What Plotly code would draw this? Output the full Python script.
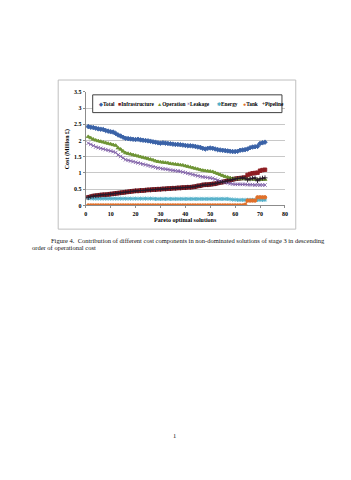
import plotly.graph_objects as go

solutions = list(range(1, 73))

total = [2.43, 2.41, 2.40, 2.38, 2.36, 2.35, 2.34, 2.31, 2.29, 2.27, 2.26, 2.22, 2.17, 2.14, 2.10, 2.07, 2.06, 2.05,
         2.04, 2.03, 2.04, 2.02, 2.01, 2.00, 1.99, 1.98, 1.96, 1.95, 1.93, 1.92, 1.93, 1.92, 1.91, 1.90, 1.89, 1.88,
         1.88, 1.87, 1.86, 1.85, 1.84, 1.84, 1.83, 1.82, 1.80, 1.79, 1.76, 1.74, 1.76, 1.77, 1.76, 1.74, 1.72, 1.71,
         1.70, 1.69, 1.68, 1.67, 1.66, 1.66, 1.67, 1.70, 1.71, 1.72, 1.74, 1.78, 1.80, 1.81, 1.82, 1.91, 1.93, 1.95]

infrastructure = [0.25, 0.27, 0.29, 0.30, 0.31, 0.32, 0.33, 0.33, 0.34, 0.35, 0.36, 0.37, 0.38, 0.39, 0.40, 0.41, 0.42, 0.43,
                  0.44, 0.45, 0.45, 0.46, 0.46, 0.47, 0.48, 0.48, 0.49, 0.49, 0.50, 0.50, 0.51, 0.51, 0.52, 0.52, 0.53, 0.53,
                  0.54, 0.54, 0.55, 0.55, 0.56, 0.56, 0.57, 0.58, 0.60, 0.61, 0.63, 0.64, 0.64, 0.65, 0.66, 0.67, 0.69, 0.71,
                  0.72, 0.74, 0.76, 0.78, 0.80, 0.82, 0.83, 0.84, 0.85, 0.86, 0.94, 0.97, 0.99, 1.00, 1.01, 1.07, 1.09, 1.10]

operation = [2.12, 2.08, 2.04, 2.01, 1.99, 1.97, 1.95, 1.93, 1.91, 1.89, 1.87, 1.85, 1.77, 1.73, 1.67, 1.62, 1.60, 1.58,
             1.56, 1.54, 1.52, 1.50, 1.48, 1.46, 1.44, 1.42, 1.40, 1.37, 1.35, 1.34, 1.33, 1.32, 1.31, 1.29, 1.28, 1.27,
             1.26, 1.25, 1.24, 1.22, 1.20, 1.18, 1.16, 1.14, 1.12, 1.10, 1.08, 1.07, 1.06, 1.05, 1.04, 1.01, 0.98, 0.95,
             0.92, 0.89, 0.87, 0.85, 0.83, 0.82, 0.82, 0.82, 0.82, 0.82, 0.81, 0.81, 0.81, 0.80, 0.80, 0.80, 0.80, 0.80]

leakage = [1.92, 1.88, 1.84, 1.80, 1.78, 1.76, 1.74, 1.72, 1.70, 1.68, 1.66, 1.63, 1.56, 1.51, 1.46, 1.41, 1.39, 1.37,
           1.35, 1.33, 1.31, 1.29, 1.27, 1.25, 1.23, 1.21, 1.19, 1.17, 1.15, 1.14, 1.13, 1.12, 1.11, 1.09, 1.08, 1.07,
           1.06, 1.05, 1.03, 1.01, 0.99, 0.97, 0.95, 0.93, 0.91, 0.89, 0.88, 0.87, 0.86, 0.85, 0.84, 0.81, 0.78, 0.75,
           0.73, 0.71, 0.69, 0.67, 0.66, 0.65, 0.65, 0.65, 0.65, 0.65, 0.64, 0.64, 0.64, 0.63, 0.63, 0.63, 0.63, 0.63]

energy = [0.22, 0.22, 0.21, 0.21, 0.21, 0.21, 0.21, 0.21, 0.21, 0.21, 0.21, 0.21, 0.21, 0.21, 0.21, 0.21, 0.21, 0.21,
          0.21, 0.21, 0.21, 0.21, 0.21, 0.21, 0.21, 0.21, 0.21, 0.20, 0.20, 0.20, 0.20, 0.20, 0.20, 0.20, 0.20, 0.20,
          0.20, 0.20, 0.20, 0.20, 0.20, 0.20, 0.20, 0.20, 0.20, 0.20, 0.20, 0.20, 0.20, 0.20, 0.20, 0.20, 0.20, 0.20,
          0.20, 0.20, 0.20, 0.19, 0.18, 0.18, 0.17, 0.17, 0.17, 0.17, 0.17, 0.17, 0.17, 0.17, 0.17, 0.17, 0.17, 0.17]

tank = [0.0] * 63 + [0.02, 0.15, 0.15, 0.15, 0.15, 0.25, 0.25, 0.25, 0.25]

pipeline = [0.25, 0.27, 0.29, 0.30, 0.31, 0.32, 0.33, 0.33, 0.34, 0.35, 0.36, 0.37, 0.38, 0.39, 0.40, 0.41, 0.42, 0.43,
            0.44, 0.45, 0.45, 0.46, 0.46, 0.47, 0.48, 0.48, 0.49, 0.49, 0.50, 0.50, 0.51, 0.51, 0.52, 0.52, 0.53, 0.53,
            0.54, 0.54, 0.55, 0.55, 0.56, 0.56, 0.57, 0.58, 0.60, 0.61, 0.63, 0.64, 0.64, 0.65, 0.66, 0.67, 0.69, 0.71,
            0.72, 0.74, 0.76, 0.78, 0.80, 0.82, 0.83, 0.84, 0.85, 0.84, 0.79, 0.82, 0.84, 0.85, 0.76, 0.82, 0.84, 0.85]

y_ticks = [0, 0.5, 1, 1.5, 2, 2.5, 3, 3.5]
x_ticks = [0, 10, 20, 30, 40, 50, 60, 70, 80]

series = [
    ("Total", total, "#3A62A7", "diamond", "◆"),
    ("Infrastructure", infrastructure, "#8E1E22", "square", "■"),
    ("Operation", operation, "#6E9434", "triangle-up", "▲"),
    ("Leakage", leakage, "#8466AA", "x-thin", "×"),
    ("Energy", energy, "#52AFC8", "asterisk", "✱"),
    ("Tank", tank, "#E0702A", "circle", "●"),
    ("Pipeline", pipeline, "#2A1A2A", "cross-thin", "+"),
]

W, H = 351, 480
def px(x):
    return x / W
def py(y):
    return 1 - y / H

fig = go.Figure()
for name, vals, col, sym, _ in series:
    fig.add_trace(go.Scatter(
        x=solutions, y=vals, mode="lines+markers", name=name,
        line=dict(color=col, width=1.1),
        marker=dict(symbol=sym, size=3.5, color=col, line=dict(color=col, width=0.9)),
        showlegend=False,
    ))

FONT = "Liberation Serif"
fig.update_layout(
    width=W, height=H,
    margin=dict(l=0, r=0, t=0, b=0),
    paper_bgcolor="white", plot_bgcolor="white",
    xaxis=dict(domain=[px(85), px(287)], range=[0, 80], tickvals=x_ticks,
               ticktext=[f"<b>{v}</b>" for v in x_ticks],
               showgrid=False, zeroline=False, showline=True, linecolor="#8C8C8C", linewidth=1,
               ticks="outside", ticklen=2, tickcolor="#8C8C8C",
               tickfont=dict(family=FONT, size=6, color="#000")),
    yaxis=dict(domain=[py(205), py(90)], range=[0, 3.5], tickvals=y_ticks,
               ticktext=[f"<b>{v:g}</b>" for v in y_ticks],
               showgrid=True, gridcolor="#C8C8C8", gridwidth=1, zeroline=False,
               showline=True, linecolor="#8C8C8C", linewidth=1,
               ticks="outside", ticklen=2, tickcolor="#8C8C8C",
               tickfont=dict(family=FONT, size=6, color="#000")),
)

shapes = [
    dict(type="rect", xref="paper", yref="paper", x0=px(57), x1=px(298), y0=py(229), y1=py(78),
         line=dict(color="#BFBFBF", width=1), fillcolor="rgba(0,0,0,0)", layer="below"),
    dict(type="rect", xref="paper", yref="paper", x0=px(92), x1=px(284), y0=py(111), y1=py(93),
         line=dict(color="#404040", width=1), fillcolor="white", layer="above"),
]
fig.update_layout(shapes=shapes)

annotations = []
leg_x = [95.5, 116, 155, 186, 216, 242, 262]
for (name, vals, col, sym, glyph), lx in zip(series, leg_x):
    annotations.append(dict(
        xref="paper", yref="paper", x=px(lx), y=py(102), xanchor="left", yanchor="middle",
        showarrow=False,
        text=f'<span style="color:{col}"><b>{glyph}</b></span><b>{name}</b>',
        font=dict(family=FONT, size=5.3, color="#000"),
    ))

annotations += [
    dict(xref="paper", yref="paper", x=px(186), y=py(220), xanchor="center", yanchor="middle",
         showarrow=False, text="<b>Pareto optimal solutions</b>",
         font=dict(family=FONT, size=6, color="#000")),
    dict(xref="paper", yref="paper", x=px(66), y=py(148), xanchor="center", yanchor="middle",
         showarrow=False, text="<b>Cost (Million £)</b>", textangle=-90,
         font=dict(family=FONT, size=6, color="#000")),
    dict(xref="paper", yref="paper", x=px(48), y=py(240), xanchor="left", yanchor="middle",
         showarrow=False,
         text="Figure 4.  Contribution of different cost components in non-dominated solutions of stage 3 in descending",
         font=dict(family=FONT, size=6.5, color="#111")),
    dict(xref="paper", yref="paper", x=px(28), y=py(247.5), xanchor="left", yanchor="middle",
         showarrow=False, text="order of operational cost",
         font=dict(family=FONT, size=6.5, color="#111")),
    dict(xref="paper", yref="paper", x=px(175), y=py(438), xanchor="center", yanchor="middle",
         showarrow=False, text="1",
         font=dict(family=FONT, size=6.5, color="#111")),
]
fig.update_layout(annotations=annotations)

fig.write_html("out.html")
